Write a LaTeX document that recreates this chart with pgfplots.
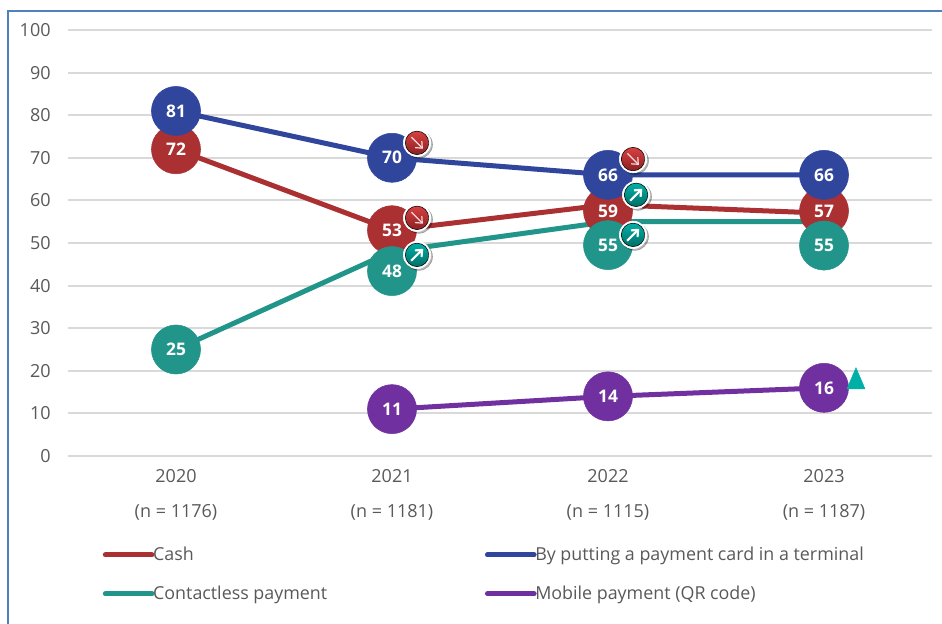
\documentclass[border=0pt]{standalone}
\usepackage{fontspec}
\setmainfont{Open Sans}
\usepackage{pgfplots}
\pgfplotsset{compat=1.18}
\usetikzlibrary{arrows.meta}

\definecolor{cashred}{HTML}{AB3032}
\definecolor{cardblue}{HTML}{30459C}
\definecolor{nfcteal}{HTML}{21958A}
\definecolor{qrpurple}{HTML}{7030A0}
\definecolor{gridgrey}{HTML}{D9D9D9}
\definecolor{textgrey}{HTML}{595959}
\definecolor{framecol}{HTML}{4F81BD}
\definecolor{badgeredtop}{HTML}{D8403F}
\definecolor{badgeredbot}{HTML}{8A2024}
\definecolor{badgetealtop}{HTML}{00B0A6}
\definecolor{badgetealbot}{HTML}{006E68}

% 1 px of the reference = 0.75pt
% inside an axis a bare (0,0) is a data coordinate, so all of these carry pt
\newcommand{\badgedisc}[2]{%
  \fill[black,opacity=.28] (1.3pt,-1.3pt) circle (10.3pt);
  \fill[white] (0pt,0pt) circle (10.3pt);
  \shade[top color=#1,bottom color=#2] (0pt,0pt) circle (8.8pt);
}
\pgfdeclareplotmark{badgedown}{%
  \badgedisc{badgeredtop}{badgeredbot}
  \draw[white!85!red,line width=.9pt,-{Straight Barb[length=4pt,width=7pt]}] (-4.2pt,4.2pt) -- (4.4pt,-4.4pt);
}
\pgfdeclareplotmark{badgeup}{%
  \badgedisc{badgetealtop}{badgetealbot}
  \draw[white,line width=1.6pt,-{Straight Barb[length=4pt,width=7pt]}] (-4.4pt,-4.4pt) -- (4.6pt,4.6pt);
}

\pgfplotsset{
  dot/.style={only marks,mark=*,mark size=18.4pt,color=#1,forget plot,
    point meta=explicit symbolic,nodes near coords,
    every node near coord/.style={anchor=center,inner sep=0pt,text=white,
      font=\fontsize{13}{15}\selectfont\bfseries}},
  trend/.style={color=#1,line width=3.75pt,line cap=round,no marks},
  badge/.style={only marks,mark=#1,forget plot},
}

\begin{document}
\begin{tikzpicture}
\useasboundingbox (0,0) rectangle (706.5pt,468pt);
\draw[framecol,line width=1.2pt] (6pt,0) -- (6pt,459.75pt) -- (706.5pt,459.75pt);
\begin{axis}[
    at={(51pt,126pt)},
    anchor=south west,
    scale only axis,
    width=648pt,
    height=319.5pt,
    xmin=-0.5, xmax=3.5,
    ymin=0, ymax=100,
    clip=false,
    axis line style={draw=none},
    major tick style={draw=none},
    ymajorgrids,
    grid style={gridgrey,line width=1.4pt},
    ytick={0,10,...,100},
    xtick={0,1,2,3},
    xticklabels={2020\\(n = 1176),2021\\(n = 1181),2022\\(n = 1115),2023\\(n = 1187)},
    xticklabel style={align=center,text=textgrey,font=\fontsize{13.5}{26.25}\selectfont,yshift=-6.5pt},
    yticklabel style={text=textgrey,font=\fontsize{13.5}{15}\selectfont,xshift=-9.5pt},
    /pgf/number format/assume math mode=true,
    legend columns=2,
    legend cell align=left,
    legend style={at={(axis cs:-0.34,-20.7)},anchor=north west,draw=none,fill=none,
      inner sep=0pt,font=\fontsize{13.4}{15}\selectfont,text=textgrey,
      /tikz/every odd column/.append style={column sep=-3pt},
      /tikz/every even column/.append style={column sep=116.25pt},
      /tikz/row sep=13.5pt},
    legend image code/.code={\draw[#1,line cap=round] (0pt,0pt) -- (35pt,0pt);},
]
% lines at the true values
\addplot[trend=cashred] coordinates {(0,72) (1,53) (2,59) (3,57)};
\addlegendentry{Cash}
\addplot[trend=cardblue] coordinates {(0,81) (1,70) (2,66) (3,66)};
\addlegendentry{By putting a payment card in a terminal}
\addplot[trend=nfcteal] coordinates {(0,25) (1,48) (2,55) (3,55)};
\addlegendentry{Contactless payment}
\addplot[trend=qrpurple] coordinates {(1,11) (2,14) (3,16)};
\addlegendentry{Mobile payment (QR code)}
% value bubbles, some moved off the line as in the original
\addplot[dot=cashred] coordinates {(0,72)[72] (1,53)[53] (2,57.5)[59] (3,57.5)[57]};
\addplot[dot=cardblue] coordinates {(0,81)[81] (1,70)[70] (2,66)[66] (3,66)[66]};
\addplot[dot=nfcteal] coordinates {(0,25)[25] (1,43.4)[48] (2,49.5)[55] (3,49.4)[55]};
\addplot[dot=qrpurple] coordinates {(1,11)[11] (2,14)[14] (3,16)[16]};
% trend badges
\addplot[badge=badgedown] coordinates {(1.116,73.5) (2.116,69.7) (1.116,55.9)};
\addplot[badge=badgeup] coordinates {(1.116,47.2) (2.13,61.3) (2.116,51.9)};
\addplot[only marks,mark=triangle*,mark size=7.8pt,mark options={yscale=1.35},color=badgetealtop,forget plot] coordinates {(3.148,17.4)};
\end{axis}
\end{tikzpicture}
\end{document}
